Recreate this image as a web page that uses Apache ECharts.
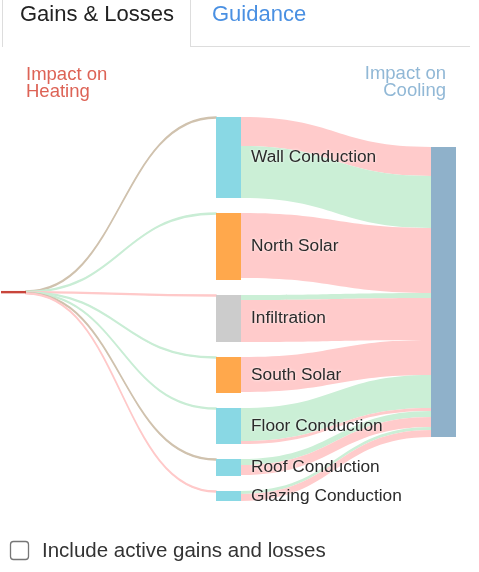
<!DOCTYPE html>
<html>
<head>
<meta charset="utf-8">
<script src="https://cdn.jsdelivr.net/npm/echarts@6/dist/echarts.min.js"></script>
<style>
  html, body { margin: 0; padding: 0; background: #fff; }
  #chart { width: 479px; height: 572px; }
</style>
</head>
<body>
<div id="chart"></div>
<script>
// Building components between the heating and cooling loads
const components = ['Wall Conduction', 'North Solar', 'Infiltration', 'South Solar',
                    'Floor Conduction', 'Roof Conduction', 'Glazing Conduction'];
const componentKind = ['envelope', 'solar', 'air', 'solar', 'envelope', 'envelope', 'envelope'];
// Node sizes of each component
const componentSize = [81, 67, 47, 36, 36, 17, 10];
// Impact on cooling: gains (increase) and losses (decrease)
const coolingGain = [29, 65, 42, 35, 3, 10, 7];
const coolingLoss = [52, 0, 5, 0, 33, 6, 3];
// Which cooling band sits on top for each component
const coolingFirst = ['gain', 'gain', 'loss', 'gain', 'loss', 'loss', 'loss'];
// Impact on heating (very small)
const heatingGain = [0.25, 0, 0.25, 0, 0, 0.25, 0.25];
const heatingLoss = [0.25, 0.25, 0, 0.25, 0.25, 0.25, 0];

const kindColor = { envelope: '#89d8e4', solar: '#ffa84c', air: '#cccccc' };
const gainColor = '#ffcbcb';
const lossColor = '#cbefd6';

const FONT = '"Liberation Sans", Arial, sans-serif';

const nodes = [{
  name: 'Heating', value: 2.4, localY: 0.453,
  itemStyle: { color: '#c8453b' }, label: { show: false }
}];
components.forEach(function (c, i) {
  nodes.push({ name: c, value: componentSize[i], itemStyle: { color: kindColor[componentKind[i]] } });
});
nodes.push({ name: 'Cooling', localY: 0.078, itemStyle: { color: '#8fb1ca' }, label: { show: false } });

const links = [];
components.forEach(function (c, i) {
  const g = heatingGain[i], l = heatingLoss[i];
  if (g + l > 0) {
    const col = g > 0 && l > 0 ? '#d0c2ae' : (g > 0 ? '#ffc9c9' : '#c9edd5');
    links.push({ source: 'Heating', target: c, value: g + l,
      lineStyle: { color: col, opacity: 1, borderColor: col, borderWidth: 1.3 } });
  }
});
components.forEach(function (c, i) {
  const bands = coolingFirst[i] === 'gain'
    ? [[coolingGain[i], gainColor], [coolingLoss[i], lossColor]]
    : [[coolingLoss[i], lossColor], [coolingGain[i], gainColor]];
  bands.forEach(function (b) {
    if (b[0] > 0) {
      links.push({ source: c, target: 'Cooling', value: b[0],
        lineStyle: { color: b[1], opacity: 1 } });
    }
  });
});

const chart = echarts.init(document.getElementById('chart'), null, { renderer: 'canvas' });
chart.setOption({
  animation: false,
  graphic: [
    // tab strip
    { type: 'line', shape: { x1: 2.5, y1: 0, x2: 2.5, y2: 47 }, style: { stroke: '#dddddd', lineWidth: 1 } },
    { type: 'line', shape: { x1: 190.5, y1: 0, x2: 190.5, y2: 47 }, style: { stroke: '#dddddd', lineWidth: 1 } },
    { type: 'line', shape: { x1: 190, y1: 46.5, x2: 470, y2: 46.5 }, style: { stroke: '#dddddd', lineWidth: 1 } },
    { type: 'text', left: 20, top: 4, style: { text: 'Gains & Losses', font: '22px ' + FONT, fill: '#222222' } },
    { type: 'text', left: 212, top: 4, style: { text: 'Guidance', font: '22px ' + FONT, fill: '#4a90e2' } },
    // column headings
    { type: 'text', left: 26, top: 65, style: { text: 'Impact on\nHeating', font: '18.5px ' + FONT, lineHeight: 17, fill: '#dd6356' } },
    { type: 'text', x: 446, y: 65, style: { text: 'Impact on\nCooling', font: '18.5px ' + FONT, lineHeight: 17, fill: '#91b8d6', align: 'right', verticalAlign: 'top' } },
    // checkbox
    { type: 'rect', shape: { x: 10.5, y: 541.5, width: 18, height: 18, r: 3 }, style: { fill: '#fff', stroke: '#767676', lineWidth: 1.3 } },
    { type: 'text', left: 42, top: 541, style: { text: 'Include active gains and losses', font: '20.5px ' + FONT, fill: '#333333' } }
  ],
  series: [{
    type: 'sankey',
    left: 1, top: 117, width: 455, height: 384,
    nodeWidth: 25,
    nodeGap: 15,
    layoutIterations: 0,
    draggable: false,
    emphasis: { disabled: true },
    lineStyle: { curveness: 0.5 },
    itemStyle: { borderWidth: 0 },
    label: {
      position: 'right', distance: 10,
      color: '#2b2b2b', fontSize: 17.3, fontFamily: FONT,
      textShadowColor: '#ffffff', textShadowBlur: 3
    },
    data: nodes,
    links: links
  }]
});
</script>
</body>
</html>
